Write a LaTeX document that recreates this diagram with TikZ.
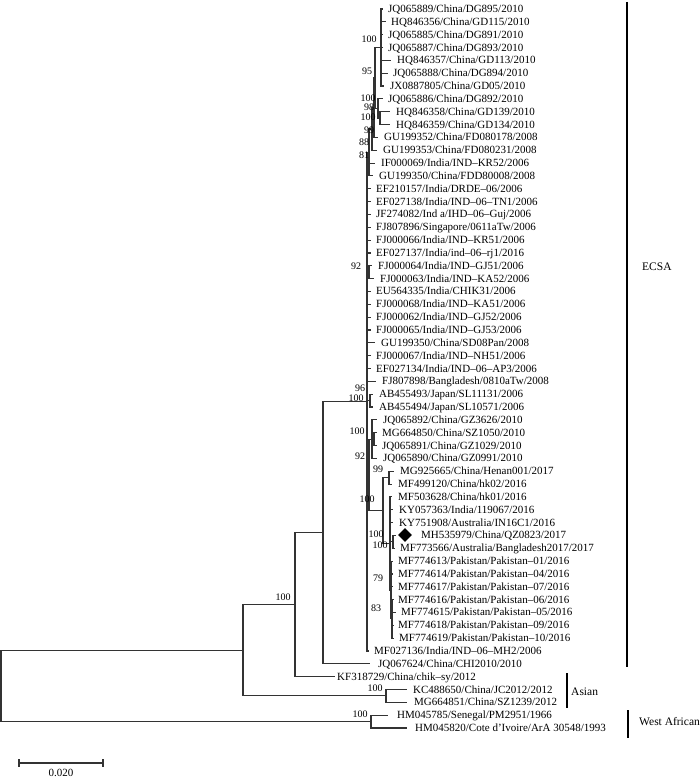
\documentclass[tikz,border=0pt]{standalone}
\usepackage{fontspec}
\setmainfont{Liberation Serif}
\usetikzlibrary{shapes.geometric}
\newcommand\leafrow[4]{%
  \coordinate (t#1) at (#2,{9+(#1-1)*12.84});
  \node[leaf] (L#1) at (#3,{9+(#1-1)*12.84}) {#4};}
\begin{document}
\begin{tikzpicture}[x=1pt,y=-1pt,
  br/.style={draw=black!80,line width=1.1pt},
  leaf/.style={anchor=west,inner sep=0pt,font=\fontsize{11}{11}\selectfont,text height=7pt,text depth=0pt},
  bs/.style={inner sep=0pt,font=\fontsize{10}{10}\selectfont},
  cladebar/.style={draw=black,line width=2.6pt},
  cladetxt/.style={anchor=west,inner sep=0pt,font=\fontsize{11.5}{11.5}\selectfont}]
\useasboundingbox (0,0) rectangle (700,778);
% leaves
\leafrow{1}{383}{388}{JQ065889/China/DG895/2010}
\leafrow{2}{386}{391}{HQ846356/China/GD115/2010}
\leafrow{3}{383}{388}{JQ065885/China/DG891/2010}
\leafrow{4}{383}{388}{JQ065887/China/DG893/2010}
\leafrow{5}{391}{397}{HQ846357/China/GD113/2010}
\leafrow{6}{388}{393}{JQ065888/China/DG894/2010}
\leafrow{7}{384}{390}{JX0887805/China/GD05/2010}
\leafrow{8}{383}{388}{JQ065886/China/DG892/2010}
\leafrow{9}{390}{396}{HQ846358/China/GD139/2010}
\leafrow{10}{390}{396}{HQ846359/China/GD134/2010}
\leafrow{11}{378}{384}{GU199352/China/FD080178/2008}
\leafrow{12}{377}{383}{GU199353/China/FD080231/2008}
\leafrow{13}{375}{381}{IF000069/India/IND–KR52/2006}
\leafrow{14}{373}{379}{GU199350/China/FDD80008/2008}
\leafrow{15}{371}{376}{EF210157/India/DRDE–06/2006}
\leafrow{16}{371}{376}{EF027138/India/IND–06–TN1/2006}
\leafrow{17}{371}{376}{JF274082/Ind a/IHD–06–Guj/2006}
\leafrow{18}{371}{376}{FJ807896/Singapore/0611aTw/2006}
\leafrow{19}{371}{376}{FJ000066/India/IND–KR51/2006}
\leafrow{20}{371}{376}{EF027137/India/ind–06–rj1/2016}
\leafrow{21}{372}{378}{FJ000064/India/IND–GJ51/2006}
\leafrow{22}{374}{380}{FJ000063/India/IND–KA52/2006}
\leafrow{23}{371}{376}{EU564335/India/CHIK31/2006}
\leafrow{24}{371}{376}{FJ000068/India/IND–KA51/2006}
\leafrow{25}{371}{376}{FJ000062/India/IND–GJ52/2006}
\leafrow{26}{371}{376}{FJ000065/India/IND–GJ53/2006}
\leafrow{27}{375}{381}{GU199350/China/SD08Pan/2008}
\leafrow{28}{371}{376}{FJ000067/India/IND–NH51/2006}
\leafrow{29}{371}{376}{EF027134/India/IND–06–AP3/2006}
\leafrow{30}{376}{382}{FJ807898/Bangladesh/0810aTw/2008}
\leafrow{31}{373}{379}{AB455493/Japan/SL11131/2006}
\leafrow{32}{373}{379}{AB455494/Japan/SL10571/2006}
\leafrow{33}{377}{383}{JQ065892/China/GZ3626/2010}
\leafrow{34}{377}{382}{MG664850/China/SZ1050/2010}
\leafrow{35}{377}{382}{JQ065891/China/GZ1029/2010}
\leafrow{36}{377}{383}{JQ065890/China/GZ0991/2010}
\leafrow{37}{394}{400}{MG925665/China/Henan001/2017}
\leafrow{38}{392}{398}{MF499120/China/hk02/2016}
\leafrow{39}{392}{398}{MF503628/China/hk01/2016}
\leafrow{40}{393}{399}{KY057363/India/119067/2016}
\leafrow{41}{393}{399}{KY751908/Australia/IN16C1/2016}
\leafrow{42}{396}{421}{MH535979/China/QZ0823/2017}
\leafrow{43}{395}{400}{MF773566/Australia/Bangladesh2017/2017}
\leafrow{44}{393}{398}{MF774613/Pakistan/Pakistan–01/2016}
\leafrow{45}{393}{398}{MF774614/Pakistan/Pakistan–04/2016}
\leafrow{46}{393}{398}{MF774617/Pakistan/Pakistan–07/2016}
\leafrow{47}{394}{398}{MF774616/Pakistan/Pakistan–06/2016}
\leafrow{48}{396}{401}{MF774615/Pakistan/Pakistan–05/2016}
\leafrow{49}{394}{398}{MF774618/Pakistan/Pakistan–09/2016}
\leafrow{50}{394}{399}{MF774619/Pakistan/Pakistan–10/2016}
\leafrow{51}{369}{374}{MF027136/India/IND–06–MH2/2006}
\leafrow{52}{370}{378}{JQ067624/China/CHI2010/2010}
\leafrow{53}{335}{337}{KF318729/China/chik–sy/2012}
\leafrow{54}{407}{413}{KC488650/China/JC2012/2012}
\leafrow{55}{407}{414}{MG664851/China/SZ1239/2012}
\leafrow{56}{388}{397}{HM045785/Senegal/PM2951/1966}
\leafrow{57}{407}{415}{HM045820/Cote d’Ivoire/ArA 30548/1993}
% internal nodes
\coordinate (nDG) at (381,47.52);
\coordinate (n98) at (380,118.14);
\coordinate (nB) at (378,108.51);
\coordinate (n95) at (375,78.0);
\coordinate (n99) at (374,107.7);
\coordinate (n88) at (372,128.97);
\coordinate (n81) at (369,152.45);
\coordinate (n92a) at (369,272.22);
\coordinate (nAB) at (370,400.62);
\coordinate (nGZi) at (374,439.14);
\coordinate (nGZ) at (372,439.14);
\coordinate (n99b) at (389,477.66);
\coordinate (nMH) at (393,541.86);
\coordinate (n83) at (392,618.9);
\coordinate (n79) at (391,590.01);
\coordinate (n390) at (390,543.47);
\coordinate (n383) at (383,510.56);
\coordinate (n370) at (369,474.85);
\coordinate (nE) at (367,401.7);
\coordinate (nC) at (323,532.8);
\coordinate (nB2) at (295,604.7);
\coordinate (nAs) at (386,695.94);
\coordinate (nA) at (243,650.3);
\coordinate (nWA) at (371,721.6);
\coordinate (root) at (1,686);
% branches
\foreach \i in {1,...,7} \draw[br] (nDG) |- (t\i);
\foreach \c in {t9,t10} \draw[br] (n98) |- (\c);
\foreach \c in {t8,n98} \draw[br] (nB) |- (\c);
\foreach \c in {nDG,nB} \draw[br] (n95) |- (\c);
\foreach \c in {n95,t11} \draw[br] (n99) |- (\c);
\foreach \c in {n99,t12} \draw[br] (n88) |- (\c);
\foreach \c in {n88,t13,t14} \draw[br] (n81) |- (\c);
\foreach \c in {t21,t22} \draw[br] (n92a) |- (\c);
\foreach \c in {t31,t32} \draw[br] (nAB) |- (\c);
\foreach \c in {t34,t35} \draw[br] (nGZi) |- (\c);
\foreach \c in {t33,nGZi,t36} \draw[br] (nGZ) |- (\c);
\foreach \c in {t37,t38} \draw[br] (n99b) |- (\c);
\foreach \c in {t42,t43} \draw[br] (nMH) |- (\c);
\foreach \c in {t47,t48,t49,t50} \draw[br] (n83) |- (\c);
\foreach \c in {t44,t45,t46,n83} \draw[br] (n79) |- (\c);
\foreach \c in {t39,t40,t41,nMH,n79} \draw[br] (n390) |- (\c);
\foreach \c in {n99b,n390} \draw[br] (n383) |- (\c);
\foreach \c in {nGZ,n383} \draw[br] (n370) |- (\c);
\foreach \c in {n81,t15,t16,t17,t18,t19,t20,n92a,t23,t24,t25,t26,t27,t28,t29,t30,nAB,n370,t51} \draw[br] (nE) |- (\c);
\foreach \c in {nE,t52} \draw[br] (nC) |- (\c);
\foreach \c in {nC,t53} \draw[br] (nB2) |- (\c);
\foreach \c in {t54,t55} \draw[br] (nAs) |- (\c);
\foreach \c in {nB2,nAs} \draw[br] (nA) |- (\c);
\foreach \c in {t56,t57} \draw[br] (nWA) |- (\c);
\foreach \c in {nA,nWA} \draw[br] (root) |- (\c);
% marker
\node[diamond,fill=black,inner sep=0pt,minimum width=14pt,minimum height=14pt] (dia) at (405,535) {};
% bootstrap values
\node[bs] (b1) at (369,39) {100};
\node[bs] (b2) at (367,71) {95};
\node[bs] (b3) at (368,98) {100};
\node[bs] (b4) at (369,107) {98};
\node[bs] (b5) at (368,117) {100};
\node[bs] (b6) at (369,130) {99};
\node[bs] (b7) at (364,142) {88};
\node[bs] (b8) at (364,155) {81};
\node[bs] (b9) at (356,266) {92};
\node[bs] (b10) at (360,388) {96};
\node[bs] (b11) at (356,398) {100};
\node[bs] (b12) at (357,431) {100};
\node[bs] (b13) at (360,456) {92};
\node[bs] (b14) at (378,469) {99};
\node[bs] (b15) at (367,499) {100};
\node[bs] (b16) at (376,534) {100};
\node[bs] (b17) at (380,545) {100};
\node[bs] (b18) at (378,578) {79};
\node[bs] (b19) at (376,608) {83};
\node[bs] (b20) at (283,597) {100};
\node[bs] (b21) at (375,688) {100};
\node[bs] (b22) at (360,714) {100};
% clade bars
\coordinate (e1) at (627,2); \coordinate (e2) at (627,667);
\draw[cladebar] (e1) -- (e2);
\node[cladetxt] (ecsa) at (642,267) {ECSA};
\coordinate (a1) at (567,673); \coordinate (a2) at (567,708);
\draw[cladebar] (a1) -- (a2);
\node[cladetxt] (asian) at (571,692) {Asian};
\coordinate (w1) at (628,710); \coordinate (w2) at (628,738);
\draw[cladebar] (w1) -- (w2);
\node[cladetxt] (wa) at (639,722) {West African};
% scale bar
\coordinate (s1) at (19,763); \coordinate (s2) at (103,763);
\draw[br] (s1) -- (s2);
\draw[br] ([yshift=4pt]s1) -- ([yshift=-4pt]s1);
\draw[br] ([yshift=4pt]s2) -- ([yshift=-4pt]s2);
\node[bs,font=\fontsize{11}{11}\selectfont] (sl) at (61,773) {0.020};
\end{tikzpicture}
\end{document}
